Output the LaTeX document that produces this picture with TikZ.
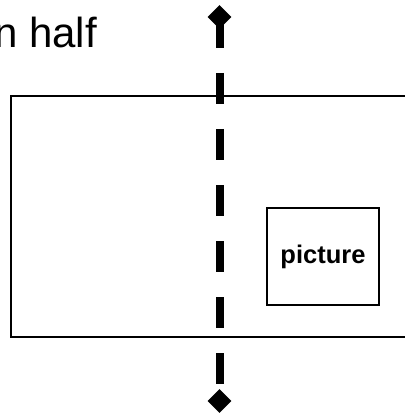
\documentclass[tikz,border=0pt]{standalone}
\usepackage{fontspec}
\setmainfont{Liberation Sans}
\usetikzlibrary{shapes.geometric}

\begin{document}
\begin{tikzpicture}[x=1pt,y=-1pt,
    tip/.style={shape=diamond, fill=black, inner sep=0pt, minimum width=24pt, minimum height=24pt},
    foldline/.style={line width=8pt, dash pattern=on 31pt off 25pt},
    box/.style={draw, line width=1.8pt, inner sep=0pt}]
    \useasboundingbox (0,0) rectangle (404,414);

    \node[box, minimum width=419pt, minimum height=241pt] (sheet) at (220.5,216.5) {};
    \node[box, minimum width=112pt, minimum height=97pt, font=\bfseries\fontsize{25.5}{30}\selectfont] (pic) at (323,256.5) {picture};
    \node[anchor=base east, inner sep=0pt, font=\fontsize{42}{48}\selectfont] (title) at (97,48) {n half};

    % fold axis
    \node[tip] (top) at (219.5,17) {};
    \node[tip] (bot) at (219.5,401) {};
    \draw[foldline] (top.center) -- (bot.center);
\end{tikzpicture}
\end{document}
